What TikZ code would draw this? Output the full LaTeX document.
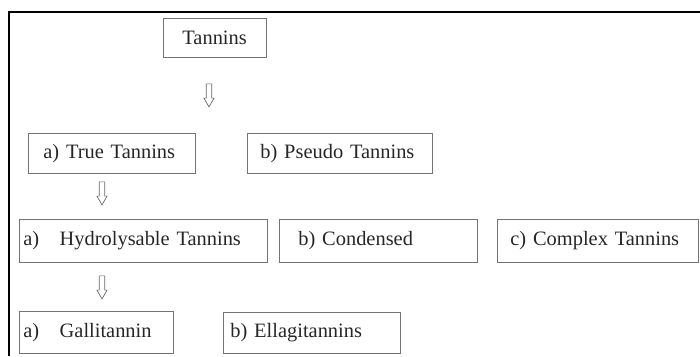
\documentclass[tikz,border=0pt]{standalone}
\usepackage{fontspec}
\setmainfont{Liberation Serif}
\usetikzlibrary{shapes.arrows}

\begin{document}
\begin{tikzpicture}[x=1bp,y=-1bp,
  tbox/.style={draw=black!55, line width=0.8bp, anchor=north west, align=left, inner ysep=0pt, font=\fontsize{20.5}{24}\selectfont, text=black!85},
  downarr/.style={single arrow, draw=black!60, line width=0.7bp, rotate=-90, minimum height=23bp, inner sep=2.4bp, single arrow head extend=2.3bp, single arrow tip angle=60}]
\useasboundingbox (0,0) rectangle (700,356);
\draw[line width=1.5bp] (9,356) -- (9,12) -- (700,12);
\node[tbox, minimum height=39bp, inner xsep=19bp, text width=65bp] (tannins) at (163,18) {Tannins};
\node[downarr] (arrTop) at (209,93) {};
\node[tbox, minimum height=40bp, inner xsep=15bp, text width=137bp] (trueT) at (28,133) {a) True Tannins};
\node[tbox, minimum height=40bp, inner xsep=13bp, text width=159bp] (pseudoT) at (247,133) {b) Pseudo Tannins};
\node[downarr] (arrTrue) at (102,191) {};
\node[tbox, minimum height=43bp, inner xsep=4bp, text width=240bp] (hydroT) at (19,219) {a)\quad Hydrolysable Tannins};
\node[tbox, minimum height=43bp, inner xsep=19bp, text width=160bp] (condT) at (279,219) {b) Condensed};
\node[tbox, minimum height=43bp, inner xsep=13bp, text width=175bp] (complexT) at (497,219) {c) Complex Tannins};
\node[downarr] (arrHydro) at (102,285) {};
\node[tbox, minimum height=42bp, inner xsep=4bp, text width=146bp] (galliT) at (19,311) {a)\quad Gallitannin};
\node[tbox, minimum height=41bp, inner xsep=7bp, text width=163bp] (ellagiT) at (223,312) {b) Ellagitannins};
\end{tikzpicture}
\end{document}
